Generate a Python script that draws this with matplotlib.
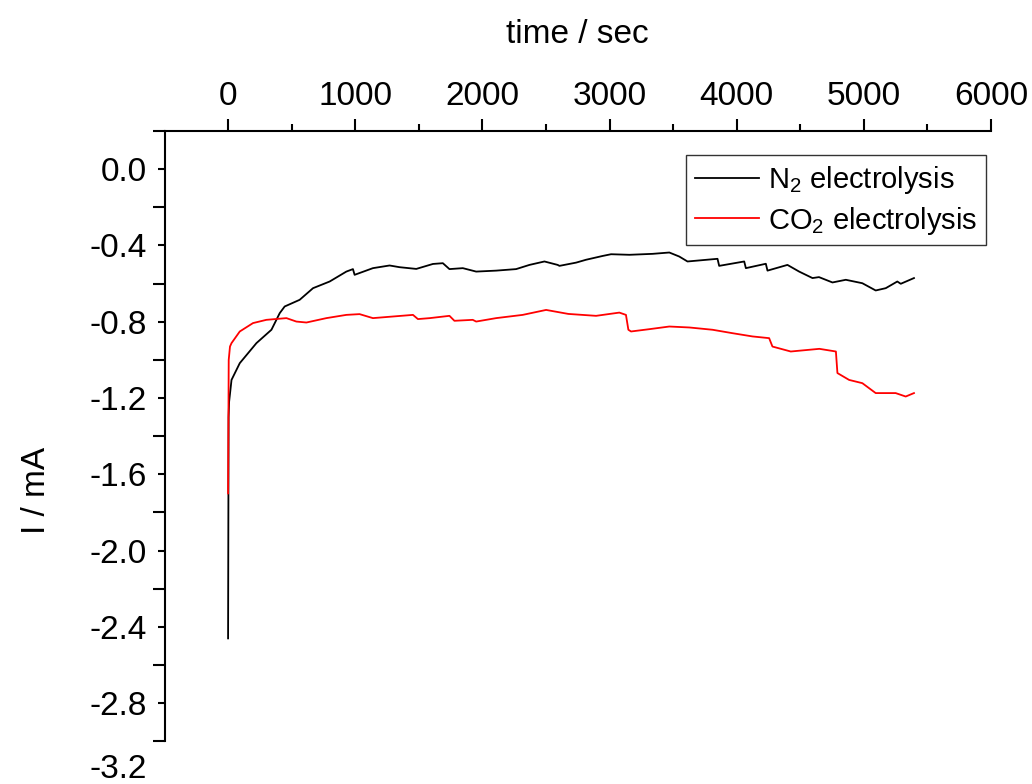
import numpy as np
import matplotlib.pyplot as plt
from matplotlib.ticker import FixedLocator

plt.rcParams['font.family'] = ['Liberation Sans', 'DejaVu Sans']
plt.rcParams['mathtext.fontset'] = 'custom'
plt.rcParams['mathtext.rm'] = 'Liberation Sans'
plt.rcParams['mathtext.it'] = 'Liberation Sans:italic'

# chronoamperometry, N2-saturated electrolyte
t_n2 = [0, 4, 8, 27, 92, 223, 341, 406, 445, 563, 668, 799, 930, 982, 995,
        1139, 1270, 1349, 1480, 1611, 1689, 1741, 1846, 1951, 2108, 2265,
        2370, 2488, 2592, 2606, 2737, 2815, 2946, 3012, 3156, 3339, 3470,
        3548, 3613, 3849, 3862, 4059, 4072, 4229, 4242, 4399, 4491, 4596,
        4647, 4753, 4858, 4988, 5093, 5172, 5263, 5290, 5394]
i_n2 = [-2.46, -1.30, -1.22, -1.105, -1.017, -0.912, -0.842, -0.755, -0.72,
        -0.685, -0.624, -0.589, -0.537, -0.524, -0.554, -0.519, -0.505,
        -0.514, -0.523, -0.497, -0.493, -0.524, -0.519, -0.537, -0.532,
        -0.524, -0.502, -0.484, -0.502, -0.507, -0.49, -0.475, -0.455,
        -0.446, -0.449, -0.444, -0.437, -0.458, -0.484, -0.470, -0.507,
        -0.484, -0.519, -0.496, -0.532, -0.502, -0.537, -0.571, -0.566,
        -0.594, -0.58, -0.598, -0.636, -0.624, -0.589, -0.601, -0.571]

# chronoamperometry, CO2-saturated electrolyte
t_co2 = [0, 5, 15, 27, 92, 196, 301, 459, 537, 616, 773, 930, 1034, 1139,
         1454, 1493, 1586, 1741, 1780, 1924, 1951, 2108, 2317, 2501, 2676,
         2894, 3077, 3129, 3148, 3169, 3312, 3470, 3627, 3810, 3967, 4124,
         4255, 4281, 4425, 4650, 4780, 4792, 4884, 4988, 5093, 5250, 5329,
         5394]
i_co2 = [-1.70, -1.00, -0.93, -0.912, -0.851, -0.807, -0.79, -0.781, -0.799,
         -0.804, -0.781, -0.764, -0.76, -0.781, -0.764, -0.786, -0.781,
         -0.769, -0.795, -0.79, -0.799, -0.781, -0.764, -0.738, -0.759,
         -0.769, -0.752, -0.764, -0.842, -0.851, -0.839, -0.825, -0.830,
         -0.842, -0.86, -0.877, -0.886, -0.93, -0.956, -0.942, -0.956,
         -1.069, -1.105, -1.122, -1.174, -1.174, -1.192, -1.174]

x_major = [0, 1000, 2000, 3000, 4000, 5000, 6000]
y_labels = [0.0, -0.4, -0.8, -1.2, -1.6, -2.0, -2.4, -2.8]
y_long = [0.2, -0.2, -0.6, -1.0, -1.4, -1.8, -2.2, -2.6, -3.0]
y_last = -3.2

fig = plt.figure(figsize=(10.32, 7.84), dpi=100)
ax = fig.add_axes([0.1594, 0.0057, 0.8009, 0.8272])

ax.plot(t_n2, i_n2, color='black', lw=1.3, label='N$_2$ electrolysis')
ax.plot(t_co2, i_co2, color='#ff0000', lw=1.3, label='CO$_2$ electrolysis')

ax.set_xlim(-500, 6000)
ax.set_ylim(-3.2, 0.2)

ax.spines['bottom'].set_visible(False)
ax.spines['right'].set_visible(False)
ax.spines['top'].set_linewidth(1.5)
ax.spines['left'].set_linewidth(1.5)
ax.spines['left'].set_bounds(-3.0, 0.2)

ax.xaxis.tick_top()
ax.xaxis.set_label_position('top')
ax.set_xticks(x_major)
ax.xaxis.set_minor_locator(FixedLocator([500, 1500, 2500, 3500, 4500, 5500]))
ax.tick_params(axis='x', which='major', direction='out', length=8.4, width=1.5,
               labelsize=24, pad=5)
ax.tick_params(axis='x', which='minor', direction='out', length=4.8, width=1.5)

ax.set_yticks(y_labels)
ax.set_yticklabels(['%.1f' % v for v in y_labels])
ax.yaxis.set_minor_locator(FixedLocator(y_long))
ax.tick_params(axis='y', which='major', direction='out', length=4.8, width=1.5,
               labelsize=24, pad=8)
ax.tick_params(axis='y', which='minor', direction='out', length=9.0, width=1.5)

# last label sits below the end of the axis line, nudged up to stay in frame
ax.annotate('%.1f' % y_last, xy=(0, y_last), xycoords=('axes fraction', 'data'),
            xytext=(-12.8, 7), textcoords='offset points', ha='right',
            va='center', fontsize=24, annotation_clip=False)

ax.set_xlabel('time / sec', fontsize=24, labelpad=28)
ax.set_ylabel('I / mA', fontsize=24)
ax.yaxis.set_label_coords(-0.136, 0.446)

leg = ax.legend(loc='upper right', bbox_to_anchor=(0.994, 0.963),
                borderaxespad=0, fontsize=21, fancybox=False, framealpha=1,
                handlelength=2.2, handletextpad=0.3, borderpad=0.3,
                labelspacing=0.3)
leg.get_frame().set_edgecolor('#333333')
leg.get_frame().set_linewidth(1.0)

fig.savefig('out.png', dpi=100)
